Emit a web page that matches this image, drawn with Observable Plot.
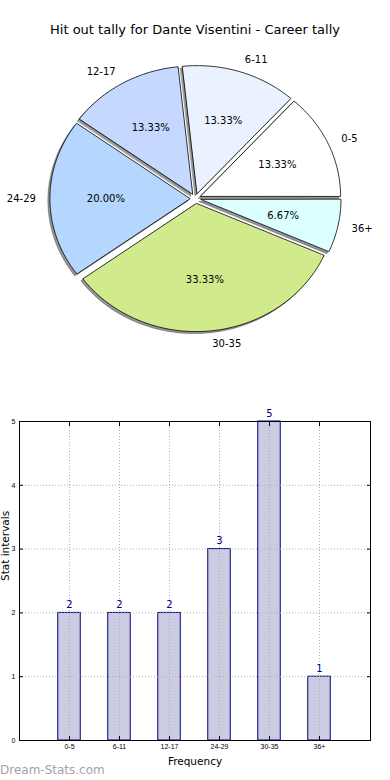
<!DOCTYPE html>
<html><head><meta charset="utf-8">
<script src="https://cdn.jsdelivr.net/npm/d3@7"></script>
<script src="https://cdn.jsdelivr.net/npm/@observablehq/plot@0.6"></script>
<style>
body{margin:0;background:#fff;width:390px;height:780px;position:relative;overflow:hidden;font-family:"DejaVu Sans",sans-serif}
#title{position:absolute;top:21px;left:0;width:390px;text-align:center;font-size:13px;line-height:18px;color:#000}
#pie{position:absolute;top:45px;left:0}
#bar{position:absolute;top:400px;left:0}
#wm{position:absolute;left:0;top:762px;font-size:12px;line-height:16px;color:#a3a3a3;font-family:"DejaVu Sans",sans-serif}
</style></head>
<body>
<div id="title">Hit out tally for Dante Visentini - Career tally</div>
<div id="pie"></div>
<div id="bar"></div>
<div id="wm">Dream-Stats.com</div>
<script>
const categories = ["0-5", "6-11", "12-17", "24-29", "30-35", "36+"];
const counts = [2, 2, 2, 3, 5, 1];
const sliceColors = ["#ffffff", "#eaf1ff", "#c5d8ff", "#b4d6ff", "#d0ea8c", "#dcffff"];
const yTicks = [0, 1, 2, 3, 4, 5];
const xTicks = [0, 1, 2, 3, 4, 5];

// ---- pie geometry (unit circle, counterclockwise from 3 o'clock) ----
const total = d3.sum(counts);
const explode = 0.04;
let acc = 0;
const slices = categories.map((cat, i) => {
  const frac = counts[i] / total;
  const a0 = acc * 2 * Math.PI;
  acc += frac;
  const a1 = acc * 2 * Math.PI;
  const mid = (a0 + a1) / 2;
  const ox = explode * Math.cos(mid), oy = explode * Math.sin(mid);
  const n = Math.max(2, Math.ceil((a1 - a0) / (Math.PI / 180)));
  const pts = [{x: ox, y: oy}];
  for (let k = 0; k <= n; k++) {
    const t = a0 + (a1 - a0) * k / n;
    pts.push({x: ox + Math.cos(t), y: oy + Math.sin(t)});
  }
  return {
    cat, i, color: sliceColors[i], pts,
    pct: (frac * 100).toFixed(2) + "%",
    px: ox + 0.6 * Math.cos(mid), py: oy + 0.6 * Math.sin(mid),
    lx: ox + 1.1 * Math.cos(mid), ly: oy + 1.1 * Math.sin(mid),
    right: Math.cos(mid) >= 0
  };
});

const pieMarks = [];
for (const s of slices) {
  pieMarks.push(Plot.line(s.pts, {x: "x", y: "y", curve: "linear-closed", fill: "#404040", fillOpacity: 0.55, stroke: "#404040", strokeOpacity: 0.55, strokeWidth: 0.8, dx: -2, dy: 2}));
  pieMarks.push(Plot.line(s.pts, {x: "x", y: "y", curve: "linear-closed", fill: s.color, stroke: "#000", strokeWidth: 0.8}));
}
pieMarks.push(Plot.text(slices, {x: "px", y: "py", text: "pct", fontSize: 10, fill: "#000", textAnchor: "middle", lineAnchor: "middle"}));
pieMarks.push(Plot.text(slices.filter(d => d.right), {x: "lx", y: "ly", text: "cat", fontSize: 10, fill: "#000", textAnchor: "start", lineAnchor: "middle"}));
pieMarks.push(Plot.text(slices.filter(d => !d.right), {x: "lx", y: "ly", text: "cat", fontSize: 10, fill: "#000", textAnchor: "end", lineAnchor: "middle"}));

const pie = Plot.plot({
  width: 390, height: 330,
  marginTop: 0, marginBottom: 0, marginLeft: 0, marginRight: 0,
  style: {fontFamily: "DejaVu Sans", background: "transparent", overflow: "visible"},
  x: {domain: [-195 / 140, 195 / 140], axis: null},
  y: {domain: [(153 - 330) / 128, 153 / 128], axis: null},
  marks: pieMarks
});
document.getElementById("pie").append(pie);

// ---- bar chart ----
const bars = categories.map((cat, i) => ({cat, i, count: counts[i]}));
const navy = "#00007f";
const gridStyle = {stroke: "#b0b0b0", strokeOpacity: 1, strokeDasharray: "1,2", strokeWidth: 1};
const bar = Plot.plot({
  width: 390, height: 380,
  marginTop: 21, marginBottom: 40, marginLeft: 19, marginRight: 20,
  style: {fontFamily: "DejaVu Sans", background: "transparent", overflow: "visible"},
  x: {domain: [-1, 6.02], axis: null},
  y: {domain: [0, 5], axis: null},
  marks: [
    Plot.rectY(bars, {x1: d => d.i - 0.225, x2: d => d.i + 0.225, y1: 0, y2: "count", fill: "#cbcbe2", stroke: navy, strokeWidth: 1}),
    Plot.gridX(xTicks, gridStyle),
    Plot.gridY(yTicks, gridStyle),
    Plot.frame({stroke: "#000", strokeWidth: 1}),
    Plot.axisY(yTicks, {anchor: "left", tickSize: 0, tickPadding: 4, fontSize: 7, fontFamily: "Liberation Sans", label: null, tickFormat: d => String(d)}),
    Plot.axisY(yTicks, {anchor: "left", tickSize: -4, tickFormat: () => "", label: null}),
    Plot.axisY(yTicks, {anchor: "right", tickSize: -4, tickFormat: () => "", label: null}),
    Plot.axisX(xTicks, {anchor: "bottom", tickSize: 0, tickPadding: 4, fontSize: 7, fontFamily: "Liberation Sans", label: null, tickFormat: d => categories[d]}),
    Plot.axisX(xTicks, {anchor: "bottom", tickSize: -4, tickFormat: () => "", label: null}),
    Plot.axisX(xTicks, {anchor: "top", tickSize: -4, tickFormat: () => "", label: null}),
    Plot.text(bars, {x: "i", y: "count", text: d => String(d.count), dy: -5, lineAnchor: "bottom", fill: navy, fontSize: 10}),
    Plot.text(["Frequency"], {frameAnchor: "bottom", text: d => d, dy: 21, lineAnchor: "middle", fontSize: 10.5, fill: "#000"}),
    Plot.text(["Stat intervals"], {frameAnchor: "left", text: d => d, dx: -13.5, rotate: -90, lineAnchor: "middle", fontSize: 10.5, fill: "#000"})
  ]
});
document.getElementById("bar").append(bar);
</script>
</body></html>
